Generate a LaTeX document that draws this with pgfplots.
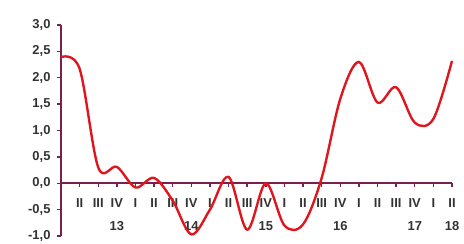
\documentclass[border=0pt]{standalone}
\usepackage{fontspec}
\setmainfont{Liberation Sans}
\usepackage{pgfplots}
\pgfplotsset{compat=1.18}
\definecolor{axcol}{HTML}{7A1F50}
\definecolor{txtcol}{HTML}{333333}
\definecolor{linecol}{HTML}{E0161E}
\begin{document}
\begin{tikzpicture}
\begin{axis}[
  scale only axis,
  width=391bp, height=211bp,
  xmin=0, xmax=21, ymin=-1, ymax=3,
  axis y line=left, axis x line=middle,
  axis line style={axcol, line width=2pt, -},
  every tick/.style={axcol, line width=1.4pt},
  tick align=outside,
  major tick length=4bp,
  xtick={1,...,21},
  xticklabels={II,III,IV\\13,I,II,III,IV\\14,I,II,III,IV\\15,I,II,III,IV\\16,I,II,III,IV\\17,I,II\\18},
  xticklabel style={align=center, font=\fontsize{13}{23}\selectfont\bfseries, text=txtcol, anchor=north, yshift=-8bp},
  ytick={-1,-0.5,...,3},
  yticklabel style={font=\fontsize{13}{15}\selectfont\bfseries, text=txtcol, xshift=-3bp},
  /pgf/number format/assume math mode=true,
  /pgf/number format/.cd, use comma, fixed, fixed zerofill, precision=1,
  /pgfplots/.cd,
  clip=false,
]
\addplot[linecol, line width=2.4pt, smooth, tension=0.55] coordinates {
(0,2.39) (1,2.17) (2,0.30) (3,0.31) (4,-0.08) (5,0.10) (6,-0.33) (7,-0.97)
(8,-0.50) (9,0.12) (10,-0.88) (11,0.0) (12,-0.80) (13,-0.78) (14,0.10)
(15,1.60) (16,2.30) (17,1.53) (18,1.82) (19,1.15) (20,1.22) (21,2.32)
};
\end{axis}
\pgfresetboundingbox
\path (current axis.south west) ++(-61bp,-8bp) coordinate (bbA);
\path (current axis.north east) ++(12bp,25bp) coordinate (bbB);
\path[use as bounding box] (bbA) rectangle (bbB);
\end{tikzpicture}
\end{document}
